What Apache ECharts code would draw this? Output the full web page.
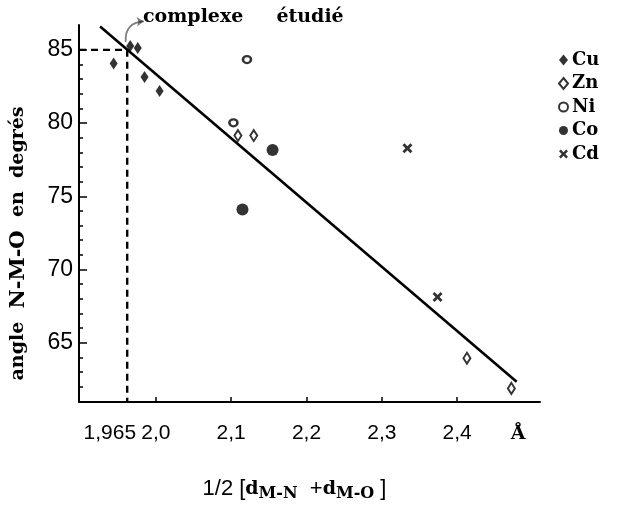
<!DOCTYPE html>
<html><head><meta charset="utf-8">
<script src="https://cdn.jsdelivr.net/npm/echarts@6/dist/echarts.min.js"></script>
<style>html,body{margin:0;padding:0;background:#fff}#c{width:621px;height:507px}</style>
</head><body><div id="c"></div>
<script>
// ---- data ----
const cu = [[1.944,84.07],[1.966,85.27],[1.976,85.13],[1.985,83.14],[2.005,82.2]];
const zn = [[2.109,79.15],[2.130,79.15],[2.413,63.94],[2.472,61.88]];
const ni = [[2.121,84.34],[2.103,80.02]];
const co = [[2.155,78.16],[2.115,74.1]];
const cd = [[2.334,78.29],[2.374,68.12]];
const fitLine = [[1.926,86.6],[2.479,62.34]];
const complexeX = 1.962;
const complexeY = 85;
const arrowCoords = [[1.960,85.55],[1.984,86.95]];
const xTickValues = [2.0,2.1,2.2,2.3,2.4];
const xLabelValues = [1.939,2.0,2.1,2.2,2.3,2.4,2.481];
const xLabelTexts = ['1,965','2,0','2,1','2,2','2,3','2,4','Å'];
const yMajorTicks = [65,70,75,80,85];
const yMinorTicks = [62,63,64,66,67,68,69,71,72,73,74,76,77,78,79,81,82,83,84];
const xMin = 1.898, xMax = 2.51, yMin = 60.95, yMax = 86.7;

const SERIF = '"DejaVu Serif", serif';
const NARROW = '"Liberation Sans Narrow", "Liberation Sans", sans-serif';
const X_PATH = 'path://M0,2 L2,0 L5,3 L8,0 L10,2 L7,5 L10,8 L8,10 L5,7 L2,10 L0,8 L3,5 Z';

function xLabel(v){
  let best = 0, bd = 1e9;
  xLabelValues.forEach((lv,i)=>{const d=Math.abs(lv-v); if(d<bd){bd=d;best=i;}});
  const t = xLabelTexts[best];
  return t === 'Å' ? '{b|' + t + '}' : t;
}
const labelStyle = {fontFamily:NARROW, fontSize:21, color:'#000',
  rich:{b:{fontFamily:SERIF, fontWeight:'bold', fontSize:19, color:'#000', padding:[2,0,0,0]}}};

const chart = echarts.init(document.getElementById('c'), null, {renderer:'canvas'});
chart.setOption({
  backgroundColor:'#fff',
  animation:false,
  title:{
    text:'complexe     étudié', left:143, top:8, padding:0,
    textStyle:{fontFamily:SERIF, fontWeight:'bold', fontSize:19, color:'#000'}
  },
  legend:{
    data:['Cu','Zn','Ni','Co','Cd'], orient:'vertical', left:558, top:51, padding:0,
    itemWidth:9, itemHeight:11, itemGap:5.5, selectedMode:false,
    textStyle:{fontFamily:SERIF, fontWeight:'bold', fontSize:18, color:'#000', padding:[0,0,0,-1]}
  },
  grid:{left:78, right:81, top:25, bottom:96, containLabel:false},
  xAxis:[{
    type:'value', min:xMin, max:xMax,
    name:'{a|1/2 [}{d|d}{s|M-N}{a|  +}{d|d}{s|M-O}{a| ]}',
    nameLocation:'middle', nameGap:74,
    nameTextStyle:{padding:[0,30,0,0], rich:{
      a:{fontFamily:NARROW, fontSize:22, color:'#000'},
      d:{fontFamily:SERIF, fontWeight:'bold', fontSize:19, color:'#000'},
      s:{fontFamily:SERIF, fontWeight:'bold', fontSize:16, color:'#000', padding:[10,0,0,0]}
    }},
    axisLine:{show:true, lineStyle:{color:'#000', width:2}},
    axisTick:{show:true, inside:true, length:5, customValues:xTickValues, lineStyle:{color:'#000', width:1.5}},
    axisLabel:Object.assign({show:true, customValues:xLabelValues.slice(1), formatter:xLabel, margin:21,
      hideOverlap:false}, labelStyle),
    splitLine:{show:false}
  },{
    type:'value', min:xMin, max:xMax, position:'bottom',
    axisLine:{show:false}, axisTick:{show:false}, splitLine:{show:false},
    axisLabel:Object.assign({show:true, customValues:xLabelValues.slice(0,1), formatter:xLabel, margin:21}, labelStyle)
  }],
  yAxis:[{
    type:'value', min:yMin, max:yMax, position:'left',
    name:'{a|angle  }{b|N-M-O}{a|  en  degrés}',
    nameLocation:'middle', nameGap:50, nameRotate:90,
    nameTextStyle:{padding:[0,60,0,0], rich:{
      a:{fontFamily:SERIF, fontWeight:'bold', fontSize:19, color:'#000'},
      b:{fontFamily:SERIF, fontWeight:'bold', fontSize:21, color:'#000'}
    }},
    axisLine:{show:true, lineStyle:{color:'#000', width:2}},
    axisTick:{show:true, inside:true, length:8, customValues:yMajorTicks, lineStyle:{color:'#000', width:1.5}},
    axisLabel:{show:true, customValues:yMajorTicks, margin:6, fontFamily:NARROW, fontSize:23, color:'#000'},
    splitLine:{show:false}
  },{
    type:'value', min:yMin, max:yMax, position:'left',
    axisLine:{show:false},
    axisTick:{show:true, inside:true, length:4, customValues:yMinorTicks, lineStyle:{color:'#000', width:1.5}},
    axisLabel:{show:false},
    splitLine:{show:false}
  }],
  series:[
    {name:'fit', type:'line', data:fitLine, symbol:'none', silent:true,
      lineStyle:{color:'#000', width:2.6}, z:2},
    {name:'guide', type:'line', data:[[xMin,complexeY],[complexeX,complexeY],[complexeX,yMin]],
      symbol:'none', silent:true, lineStyle:{color:'#000', width:2.4, type:[7,5]}, z:2},
    {name:'arrow', type:'lines', coordinateSystem:'cartesian2d', clip:false, silent:true,
      symbol:['none','arrow'], symbolSize:7,
      lineStyle:{color:'#000', width:1.8, curveness:0.5},
      data:[{coords:arrowCoords}], z:3},
    {name:'Cu', type:'scatter', data:cu, symbol:'diamond', symbolSize:[8,12],
      itemStyle:{color:'#000'}, z:4},
    {name:'Zn', type:'scatter', data:zn, symbol:'diamond', symbolSize:[7,11],
      itemStyle:{color:'#fff', borderColor:'#000', borderWidth:2}, z:4},
    {name:'Ni', type:'scatter', data:ni, symbol:'circle', symbolSize:[8,7],
      itemStyle:{color:'#fff', borderColor:'#000', borderWidth:2.5}, z:4},
    {name:'Co', type:'scatter', data:co, symbol:'circle', symbolSize:12,
      itemStyle:{color:'#000'}, z:4},
    {name:'Cd', type:'scatter', data:cd, symbol:X_PATH, symbolSize:10,
      itemStyle:{color:'#000'}, z:4}
  ]
});
</script></body></html>
